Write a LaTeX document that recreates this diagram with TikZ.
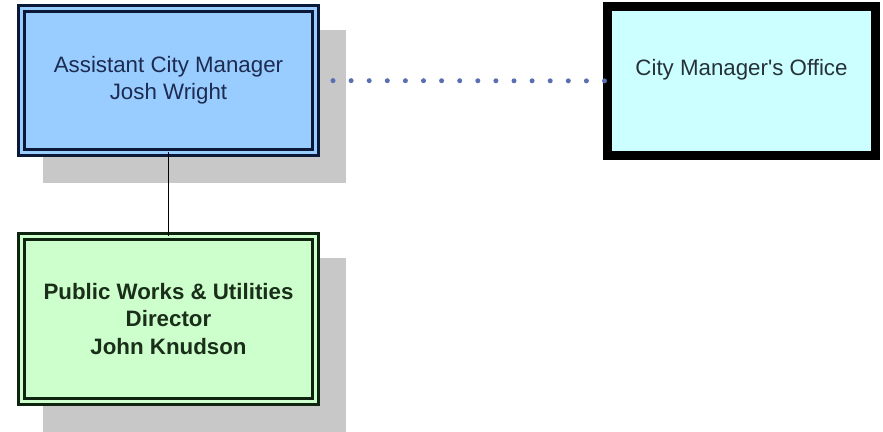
\documentclass[tikz,border=0pt]{standalone}
\usepackage{fontspec}
\setmainfont{Liberation Sans}
\usetikzlibrary{shadows}
\definecolor{acmfill}{HTML}{99CCFF}
\definecolor{acmline}{HTML}{0C1838}
\definecolor{acmtext}{HTML}{1C2B50}
\definecolor{pwufill}{HTML}{CCFFCC}
\definecolor{pwuline}{HTML}{0F240F}
\definecolor{pwutext}{HTML}{1A2E1A}
\definecolor{cmofill}{HTML}{CCFFFF}
\definecolor{cmotext}{HTML}{263238}
\definecolor{shadegray}{HTML}{C8C8C8}
\definecolor{dotblue}{HTML}{5A6EB0}
\tikzset{
  orgshade/.style={drop shadow={shadow xshift=13pt,shadow yshift=-13pt,
      opacity=1,fill=shadegray,draw=shadegray,line width=4.35pt}},
  orgbox/.style={rectangle,align=center,outer sep=0pt,inner sep=0pt,
      font=\fontsize{11.15}{13.5}\selectfont},
  dblbox/.style={orgbox,orgshade,line width=1.35pt,double distance=1.65pt,
      minimum width=147pt},
}
\begin{document}
\begin{tikzpicture}[x=0.5pt,y=-0.5pt]
\useasboundingbox (0,0) rectangle (883,432);
% boxes
\node (acm) [dblbox,draw=acmline,fill=acmfill,double=acmfill,text=acmtext,
  minimum height=72pt] at (168.5,80.5) {Assistant City Manager\\Josh Wright};
\node (pwu) [dblbox,draw=pwuline,fill=pwufill,double=pwufill,text=pwutext,
  minimum height=82.5pt,font=\fontsize{11.15}{13.6}\selectfont\bfseries]
  at (168.5,319) {Public Works \& Utilities\\Director\\John Knudson};
\node (cmo) [orgbox,draw=black,line width=4.5pt,fill=cmofill,text=cmotext,
  minimum width=134pt,minimum height=74.5pt] at (741.5,81)
  {City Manager\textquotesingle s Office\\\mbox{}};
%
\path[draw=black,line width=0.8pt] (acm) edge (pwu);
\path[draw=dotblue,line width=2.5pt,line cap=round,
  dash pattern=on 0pt off 9.05pt,shorten <=8.75pt,shorten >=0pt]
  (acm) edge (cmo);
%
\end{tikzpicture}
\end{document}
